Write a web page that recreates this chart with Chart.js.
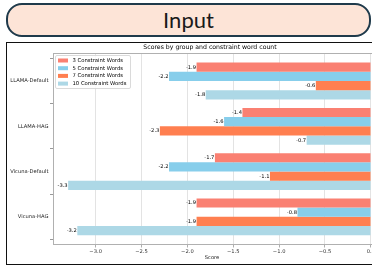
<!DOCTYPE html>
<html>
<head>
<meta charset="utf-8">
<script src="https://cdn.jsdelivr.net/npm/chart.js@4/dist/chart.umd.min.js"></script>
<style>
  html, body { margin: 0; padding: 0; background: #ffffff; }
  #page { position: relative; width: 372px; height: 266px; overflow: hidden; }
  #header {
    position: absolute; left: 6px; top: 3px; width: 361px; height: 30px;
    background: #fde4d7; border: 2px solid #1f3a4b; border-radius: 16px;
    font-family: Lato, "Open Sans", sans-serif; font-size: 22px; color: #1a1a1a;
    text-align: center; line-height: 30px; box-sizing: content-box;
  }
  #frame {
    position: absolute; left: 6px; top: 42px; width: 380px; height: 221px;
    border: 1px solid #111111;
  }
  #chart_wrap { position: absolute; left: 0; top: 0; width: 400px; height: 266px; }
</style>
</head>
<body>
<div id="page">
  <div id="header">Input</div>
  <div id="frame"></div>
  <div id="chart_wrap"><canvas id="scores_chart"></canvas></div>
</div>
<script>
const groups = ['LLAMA-Default', 'LLAMA-HAG', 'Vicuna-Default', 'Vicuna-HAG'];
const series_names = ['3 Constraint Words', '5 Constraint Words', '7 Constraint Words', '10 Constraint Words'];
const words_3 = [-1.9, -1.4, -1.7, -1.9];
const words_5 = [-2.2, -1.6, -2.2, -0.8];
const words_7 = [-0.6, -2.3, -1.1, -1.9];
const words_10 = [-1.8, -0.7, -3.3, -3.2];
const x_ticks = [-3.0, -2.5, -2.0, -1.5, -1.0, -0.5, 0.0];

const colours = ['#fa8072', '#87ceeb', '#ff7f50', '#add8e6'];
const all_values = [words_3, words_5, words_7, words_10];

function init_scores_chart() {
    var ctx = document.getElementById('scores_chart').getContext("2d");

    var datasets = [];
    for (var i = 0; i < all_values.length; i++) {
        datasets.push({
            label: series_names[i],
            data: all_values[i].map(function (v, j) { return {x: v, y: j}; }),
            backgroundColor: colours[i],
            borderWidth: 0,
            categoryPercentage: 0.815,
            barPercentage: 1.0
        });
    }

    // value labels at the end of each bar, title, axis label, top spine, legend box
    const extras = {
        id: 'extras',
        afterDatasetsDraw(chart) {
            const c = chart.ctx;
            c.save();
            c.font = '5.2px "DejaVu Sans"';
            c.fillStyle = '#000';
            c.textAlign = 'right';
            c.textBaseline = 'middle';
            chart.data.datasets.forEach(function (ds, i) {
                chart.getDatasetMeta(i).data.forEach(function (bar, j) {
                    c.fillText(ds.data[j].x.toFixed(1), bar.x - 0.5, bar.y);
                });
            });
            c.restore();
        },
        afterDraw(chart) {
            const c = chart.ctx;
            const a = chart.chartArea;
            c.save();
            // top spine
            c.strokeStyle = '#b0b0b0';
            c.lineWidth = 1;
            c.beginPath();
            c.moveTo(a.left, a.top + 0.5);
            c.lineTo(a.right, a.top + 0.5);
            c.stroke();
            // title
            c.font = '6.2px "DejaVu Sans"';
            c.fillStyle = '#000';
            c.textAlign = 'center';
            c.textBaseline = 'middle';
            c.fillText('Scores by group and constraint word count', 210, 47.5);
            // x axis label
            c.font = '5.2px "DejaVu Sans"';
            c.fillStyle = '#222';
            c.fillText('Score', 212, 258);
            // legend
            const lx = 55, ly = 55, lw = 75, lh = 33;
            c.fillStyle = 'rgba(255,255,255,0.85)';
            c.strokeStyle = '#d0d0d0';
            c.lineWidth = 0.8;
            c.beginPath();
            c.roundRect(lx + 0.5, ly + 0.5, lw, lh, 1.5);
            c.fill();
            c.stroke();
            c.font = '5.3px "DejaVu Sans"';
            c.textAlign = 'left';
            chart.data.datasets.forEach(function (ds, i) {
                const yy = ly + 5.5 + i * 7.7;
                c.fillStyle = ds.backgroundColor;
                c.fillRect(lx + 3, yy - 2, 10, 4);
                c.fillStyle = '#000';
                c.fillText(ds.label, lx + 17.5, yy);
            });
            c.restore();
        }
    };

    const scores_config = {
        type: 'bar',
        data: { datasets: datasets },
        options: {
            indexAxis: 'y',
            responsive: false,
            animation: false,
            layout: { autoPadding: false, padding: { left: 0, right: 14, top: 53, bottom: 0 } },
            plugins: {
                legend: { display: false },
                title: { display: false },
                tooltip: { enabled: false }
            },
            scales: {
                x: {
                    type: 'linear',
                    min: -3.465,
                    max: 0.165,
                    afterBuildTicks: function (axis) {
                        axis.ticks = x_ticks.map(function (v) { return {value: v}; });
                    },
                    afterFit: function (axis) { axis.height = 22; },
                    ticks: {
                        font: { family: 'DejaVu Sans', size: 5.2 },
                        color: '#333',
                        padding: 1,
                        maxRotation: 0,
                        callback: function (v) {
                            return (v < 0 ? '\u2212' : '') + Math.abs(v).toFixed(1);
                        }
                    },
                    grid: { color: '#dcdcdc', lineWidth: 0.8, tickLength: 3.5, tickColor: '#999' },
                    border: { color: '#b0b0b0', width: 1 }
                },
                y: {
                    type: 'linear',
                    min: -0.62,
                    max: 3.6,
                    reverse: true,
                    offset: false,
                    afterBuildTicks: function (axis) {
                        axis.ticks = groups.map(function (g, i) { return {value: i}; });
                    },
                    afterFit: function (axis) { axis.width = 53; },
                    ticks: {
                        font: { family: 'DejaVu Sans', size: 5.2 },
                        color: '#222',
                        padding: 1.5,
                        callback: function (v) { return groups[v]; }
                    },
                    grid: { drawOnChartArea: false, tickLength: 3, tickColor: '#999' },
                    border: { color: '#b0b0b0', width: 1 }
                }
            }
        },
        plugins: [extras]
    };

    const canvas = document.getElementById('scores_chart');
    canvas.width = 400;
    canvas.height = 266;
    return new Chart(ctx, scores_config);
}

init_scores_chart();
</script>
</body>
</html>
